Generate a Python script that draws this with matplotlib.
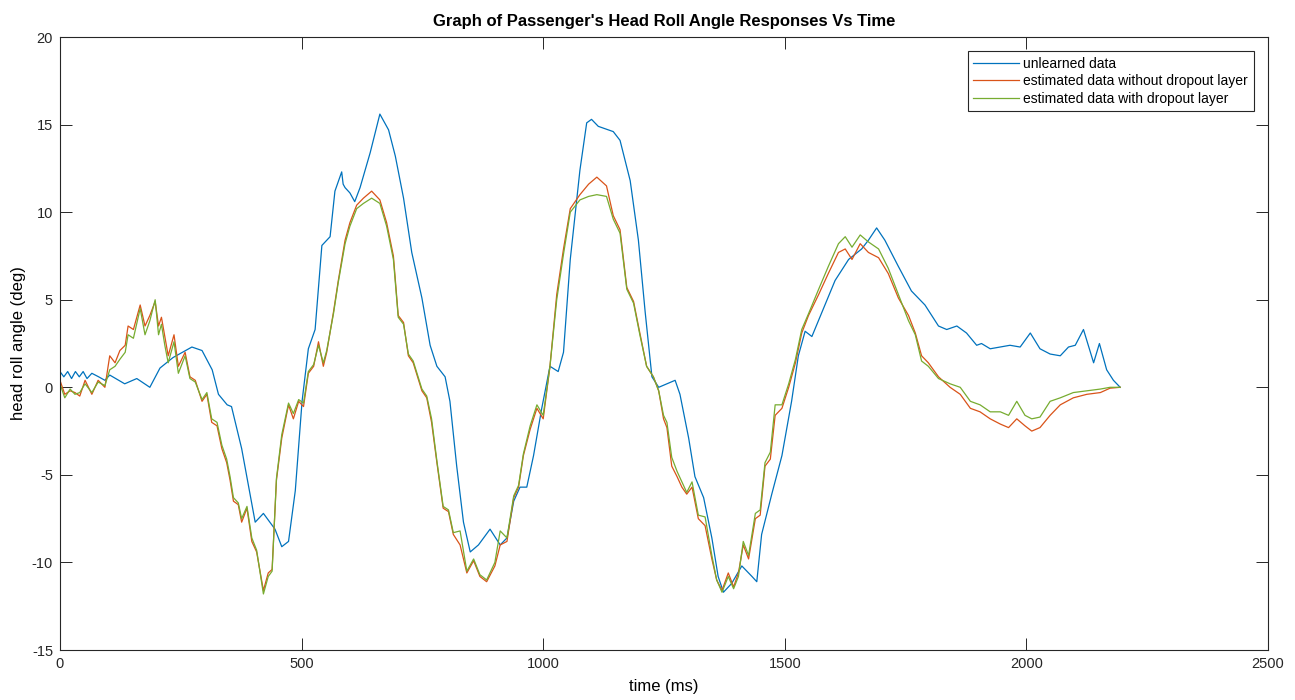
import matplotlib
matplotlib.use("Agg")
import matplotlib.pyplot as plt

plt.rcParams['font.family'] = ['Liberation Sans', 'DejaVu Sans']
plt.rcParams['axes.unicode_minus'] = False

# unlearned data (blue)
t_unlearned = [0, 8, 16, 24, 32, 40, 48, 56, 66, 80, 93, 103, 134, 159, 186, 207, 234, 273,
               294, 315, 328, 346, 355, 376, 404, 421, 445, 459, 473, 487, 501, 514, 528,
               542, 559, 569, 583, 586, 590, 600, 610, 621, 642, 662, 680, 694, 711, 728,
               749, 766, 780, 797, 807, 821, 835, 849, 866, 890, 911, 925, 939, 952, 966,
               980, 997, 1014, 1031, 1042, 1056, 1076, 1090, 1100, 1114, 1145, 1159, 1180,
               1197, 1211, 1225, 1239, 1273, 1283, 1301, 1314, 1332, 1349, 1362, 1373,
               1390, 1411, 1432, 1442, 1452, 1473, 1494, 1514, 1528, 1542, 1556, 1577,
               1604, 1632, 1659, 1673, 1690, 1707, 1735, 1762, 1790, 1818, 1835, 1856,
               1876, 1897, 1907, 1925, 1966, 1987, 2008, 2028, 2049, 2070, 2087, 2101,
               2118, 2139, 2151, 2166, 2180, 2194]
y_unlearned = [0.9, 0.6, 0.9, 0.5, 0.9, 0.6, 0.9, 0.5, 0.8, 0.6, 0.4, 0.7, 0.2, 0.5, 0.0, 1.1,
               1.7, 2.3, 2.1, 1.0, -0.4, -1.0, -1.1, -3.5, -7.7, -7.2, -8.1, -9.1, -8.8, -5.9,
               -0.8, 2.2, 3.3, 8.1, 8.6, 11.2, 12.3, 11.6, 11.4, 11.1, 10.6, 11.4, 13.4, 15.6,
               14.7, 13.2, 10.8, 7.7, 5.1, 2.4, 1.2, 0.6, -0.8, -4.5, -7.7, -9.4, -9.0, -8.1,
               -9.0, -8.6, -6.5, -5.7, -5.7, -3.9, -1.2, 1.2, 0.9, 2.0, 7.3, 12.4, 15.1, 15.3,
               14.9, 14.6, 14.1, 11.8, 8.4, 4.3, 0.6, 0.0, 0.4, -0.4, -2.9, -5.1, -6.3, -8.6,
               -10.8, -11.7, -11.2, -10.2, -10.8, -11.1, -8.4, -6.1, -3.9, -0.8, 1.8, 3.2,
               2.9, 4.3, 6.1, 7.3, 7.9, 8.4, 9.1, 8.4, 6.9, 5.5, 4.7, 3.5, 3.3, 3.5, 3.1, 2.4,
               2.5, 2.2, 2.4, 2.3, 3.1, 2.2, 1.9, 1.8, 2.3, 2.4, 3.3, 1.4, 2.5, 1.0, 0.4, 0.0]

# estimated data without dropout layer (red)
t_no_dropout = [0, 10, 21, 31, 41, 52, 66, 79, 93, 103, 114, 124, 135, 141, 152, 166, 176,
                186, 197, 204, 210, 217, 224, 236, 245, 259, 269, 280, 294, 304, 314, 325,
                335, 345, 352, 359, 369, 376, 387, 397, 407, 421, 431, 439, 448, 459, 473,
                483, 494, 504, 514, 525, 535, 545, 552, 566, 576, 590, 600, 614, 628, 645,
                662, 676, 690, 700, 711, 721, 731, 749, 759, 769, 780, 793, 804, 814, 828,
                842, 856, 869, 883, 900, 911, 925, 939, 949, 959, 973, 987, 1000, 1014,
                1028, 1042, 1056, 1076, 1094, 1111, 1131, 1145, 1159, 1173, 1187, 1200,
                1214, 1228, 1239, 1249, 1256, 1266, 1277, 1287, 1297, 1308, 1321, 1335,
                1349, 1359, 1370, 1383, 1394, 1404, 1414, 1425, 1439, 1449, 1459, 1470,
                1480, 1494, 1508, 1522, 1535, 1549, 1570, 1590, 1611, 1625, 1639, 1656,
                1673, 1694, 1714, 1735, 1756, 1770, 1783, 1797, 1818, 1842, 1863, 1884,
                1904, 1925, 1946, 1963, 1980, 1997, 2011, 2028, 2049, 2070, 2097, 2125,
                2153, 2173, 2194]
y_no_dropout = [0.4, -0.4, -0.2, -0.3, -0.5, 0.4, -0.4, 0.4, 0.0, 1.8, 1.4, 2.1, 2.4, 3.5,
                3.3, 4.7, 3.5, 4.1, 4.9, 3.5, 4.0, 2.9, 1.8, 3.0, 1.2, 2.0, 0.6, 0.4, -0.8,
                -0.4, -2.0, -2.2, -3.5, -4.3, -5.3, -6.5, -6.7, -7.7, -6.9, -8.8, -9.4,
                -11.6, -10.6, -10.4, -5.3, -2.9, -1.0, -1.8, -0.8, -1.1, 0.8, 1.2, 2.6, 1.2,
                2.0, 4.3, 6.1, 8.4, 9.4, 10.4, 10.8, 11.2, 10.7, 9.4, 7.5, 4.1, 3.7, 1.8,
                1.4, -0.2, -0.6, -2.0, -4.3, -6.9, -7.1, -8.4, -9.0, -10.6, -9.9, -10.8,
                -11.1, -10.2, -9.0, -8.8, -6.3, -5.7, -3.9, -2.4, -1.2, -1.8, 1.2, 5.3,
                7.9, 10.2, 11.0, 11.6, 12.0, 11.5, 9.8, 9.0, 5.7, 4.9, 3.1, 1.2, 0.6, -0.2,
                -1.8, -2.3, -4.5, -5.1, -5.7, -6.1, -5.7, -7.5, -7.9, -9.8, -11.0, -11.6,
                -10.6, -11.4, -10.6, -9.0, -9.8, -7.5, -7.3, -4.5, -4.1, -1.6, -1.2, 0.0,
                1.4, 3.1, 4.1, 5.3, 6.5, 7.7, 7.9, 7.3, 8.2, 7.7, 7.4, 6.5, 5.1, 4.1, 3.1,
                1.8, 1.4, 0.6, 0.0, -0.4, -1.2, -1.4, -1.8, -2.1, -2.3, -1.8, -2.2, -2.5,
                -2.3, -1.6, -1.0, -0.6, -0.4, -0.3, -0.05, 0.0]

# estimated data with dropout layer (green)
t_dropout = [0, 10, 21, 31, 41, 52, 66, 79, 93, 103, 114, 124, 135, 141, 152, 166, 176,
             186, 197, 204, 210, 217, 224, 236, 245, 259, 269, 280, 294, 304, 314, 325,
             335, 345, 352, 359, 369, 376, 387, 397, 407, 421, 431, 439, 448, 459, 473,
             483, 494, 504, 514, 525, 535, 545, 552, 566, 576, 590, 600, 614, 628, 645,
             662, 676, 690, 700, 711, 721, 731, 749, 759, 769, 780, 793, 804, 814, 828,
             842, 856, 869, 883, 900, 911, 925, 939, 949, 959, 973, 987, 1000, 1014,
             1028, 1042, 1056, 1076, 1094, 1111, 1131, 1145, 1159, 1173, 1187, 1200,
             1214, 1228, 1239, 1249, 1256, 1266, 1277, 1287, 1297, 1308, 1321, 1335,
             1349, 1359, 1370, 1383, 1394, 1404, 1414, 1425, 1439, 1449, 1459, 1470,
             1480, 1494, 1508, 1522, 1535, 1549, 1570, 1590, 1611, 1625, 1639, 1656,
             1673, 1694, 1714, 1735, 1756, 1770, 1783, 1797, 1818, 1842, 1863, 1884,
             1904, 1925, 1946, 1963, 1980, 1997, 2011, 2028, 2049, 2070, 2097, 2125,
             2153, 2173, 2194]
y_dropout = [0.2, -0.6, -0.1, -0.4, -0.3, 0.2, -0.3, 0.3, 0.1, 1.0, 1.2, 1.6, 2.0, 3.0,
             2.8, 4.5, 3.0, 3.8, 5.0, 3.0, 3.6, 2.4, 1.4, 2.6, 0.8, 1.8, 0.5, 0.3, -0.7,
             -0.3, -1.8, -2.0, -3.3, -4.1, -5.1, -6.3, -6.6, -7.5, -6.8, -8.6, -9.3,
             -11.8, -10.8, -10.5, -5.2, -2.7, -0.9, -1.5, -0.7, -0.9, 0.9, 1.3, 2.4, 1.4,
             2.1, 4.2, 6.0, 8.2, 9.2, 10.2, 10.5, 10.8, 10.5, 9.2, 7.3, 4.0, 3.6, 1.9,
             1.5, -0.1, -0.5, -1.8, -4.2, -6.8, -7.0, -8.3, -8.2, -10.5, -9.8, -10.7,
             -11.0, -10.0, -8.2, -8.6, -6.2, -5.6, -3.8, -2.2, -1.0, -1.6, 1.2, 5.0,
             7.6, 10.0, 10.7, 10.9, 11.0, 10.9, 9.6, 8.8, 5.6, 4.8, 3.0, 1.2, 0.6, -0.2,
             -1.6, -2.0, -4.0, -4.8, -5.4, -6.0, -5.4, -7.3, -7.4, -9.6, -11.0, -11.7,
             -10.8, -11.5, -10.8, -8.8, -9.6, -7.2, -7.0, -4.3, -3.7, -1.0, -1.0, 0.2,
             1.6, 3.3, 4.2, 5.6, 6.9, 8.2, 8.6, 8.0, 8.7, 8.3, 7.9, 6.8, 5.3, 3.8, 3.0,
             1.5, 1.2, 0.5, 0.2, 0.0, -0.8, -1.0, -1.4, -1.4, -1.6, -0.8, -1.6, -1.8,
             -1.7, -0.8, -0.6, -0.3, -0.2, -0.1, 0.0, 0.0]

fig = plt.figure(figsize=(12.95, 7.0), dpi=100)
ax = fig.add_axes([0.0463, 0.0714, 0.9329, 0.8757])

ax.plot(t_unlearned, y_unlearned, color='#0072BD', lw=0.9, label='unlearned data')
ax.plot(t_no_dropout, y_no_dropout, color='#D95319', lw=0.9,
        label='estimated data without dropout layer')
ax.plot(t_dropout, y_dropout, color='#77AC30', lw=0.9,
        label='estimated data with dropout layer')

ax.set_xlim(0, 2500)
ax.set_ylim(-15, 20)
ax.set_xticks([0, 500, 1000, 1500, 2000, 2500])
ax.set_yticks([-15, -10, -5, 0, 5, 10, 15, 20])
ax.tick_params(direction='in', length=8.5, width=0.7, top=True, right=True,
               labelsize=10.5, colors='#262626', pad=5)
for s in ax.spines.values():
    s.set_color('#262626')
    s.set_linewidth(0.8)

ax.set_title("Graph of Passenger's Head Roll Angle Responses Vs Time",
             fontsize=12, fontweight='bold', pad=8)
ax.set_xlabel('time (ms)', fontsize=12, labelpad=6)
ax.set_ylabel('head roll angle (deg)', fontsize=12, labelpad=4)

leg = ax.legend(loc='upper right', bbox_to_anchor=(0.988, 0.977), borderaxespad=0,
                fontsize=10, handlelength=3.3, handletextpad=0.3, labelspacing=0.25,
                fancybox=False, framealpha=1, edgecolor='#262626', borderpad=0.4)
leg.get_frame().set_linewidth(0.8)

fig.savefig('out.png', dpi=100)
